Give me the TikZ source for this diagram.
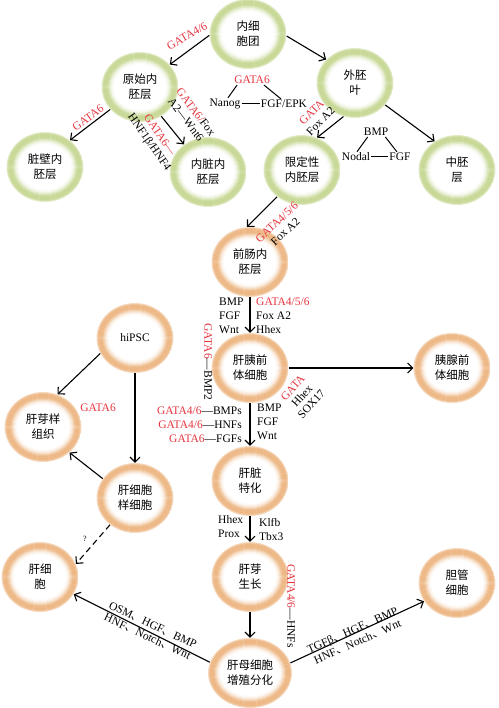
\documentclass[tikz,border=0pt]{standalone}
\usepackage{fontspec}
\setmainfont{Liberation Serif}
\newfontfamily\cjk{Noto Sans CJK SC}
\usetikzlibrary{shapes.geometric,arrows.meta}
\definecolor{gatared}{RGB}{228,52,62}
\definecolor{ringgreen}{RGB}{200,216,150}
\definecolor{ringorange}{RGB}{237,184,134}
\newcommand{\rd}[1]{\textcolor{gatared}{#1}}
\newcommand{\dun}{{\cjk 、}}
% 渐变环
\newcommand{\ringfill}[3]{%
  \foreach \d/\p in {0/50,1/80,2/100,3/100,4/100,5/100,6/88,7/70,8/50,9/32,10/18,11/8}
    \draw[line width=1.3pt, #1!\p!white] (path picture bounding box.center)
      ellipse [x radius=#2-\d, y radius=#3-\d];}

\begin{document}
\begin{tikzpicture}[x=1pt, y=-1pt, >={Straight Barb[length=5pt,width=10pt]},
  font=\fontsize{11.5}{14}\selectfont,
  ring/.style={ellipse, minimum width=77pt, minimum height=70pt, inner sep=0pt, align=center, font=\cjk\fontsize{11.5}{15}\selectfont},
  gring/.style={ring, path picture={\ringfill{ringgreen}{38}{34.5}}},
  oring/.style={ring, path picture={\ringfill{ringorange}{38}{34.5}}},
  wring/.style={ring, minimum width=84pt, path picture={\ringfill{ringorange}{41.5}{34.5}}},
  lab/.style={inner sep=1pt, align=center},
  pair/.style={lab, font=\fontsize{11.5}{12.5}\selectfont},
  arr/.style={->, line width=1.1pt},
  tie/.style={line width=1pt}]
\useasboundingbox (0,0) rectangle (498,708);

% 细胞
\node[gring] (icm) at (248,34) {内细\\胞团};
\node[gring] (pe) at (140,87) {原始内\\胚层};
\node[gring] (ecto) at (355,83) {外胚\\叶};
\node[gring] (pae) at (45,167) {脏壁内\\胚层};
\node[gring] (ve) at (208,172) {内脏内\\胚层};
\node[gring] (de) at (302,170) {限定性\\内胚层};
\node[gring] (meso) at (457,170) {中胚\\层};
\node[oring] (fg) at (250,262) {前肠内\\胚层};
\node[oring] (hpp) at (250,368) {肝胰前\\体细胞};
\node[oring] (panc) at (452,368) {胰腺前\\体细胞};
\node[oring, font=\fontsize{11.5}{14}\selectfont] (ipsc) at (135,338) {hiPSC};
\node[oring] (lbt) at (43,427) {肝芽样\\组织};
\node[oring] (hlc) at (135,498) {肝细胞\\样细胞};
\node[oring] (spec) at (250,481) {肝脏\\特化};
\node[oring] (bud) at (250,577) {肝芽\\生长};
\node[wring] (hb) at (250,673) {肝母细胞\\增殖分化};
\node[oring] (hep) at (40,577) {肝细\\胞};
\node[oring] (chol) at (457,583) {胆管\\细胞};

% 箭头
\draw[arr] (icm.182) -- (pe.37);
\draw[arr] (icm.-3) -- (ecto.141);
\draw[arr] (pe.217) -- (pae.47);
\draw[arr] (pe.306) -- (ve.131);
\draw[arr] (ecto.251) -- (de.65);
\draw[arr] (ecto.324) -- (meso.128);
\draw[arr] (de.227) -- (fg.95);
\draw[arr] (fg) -- (hpp);
\draw[arr] (hpp) -- (panc);
\draw[arr] (hpp) -- (spec);
\draw[arr] (spec) -- (bud);
\draw[arr] (bud) -- (hb);
\draw[arr] (ipsc.204) -- (lbt.66);
\draw[arr] (ipsc) -- (hlc);
\draw[arr] (hlc.149) -- (lbt.316);
\draw[arr, dash pattern=on 6pt off 4pt] (hlc.227) -- (hep.20);
\draw[arr] (hb.165) -- (hep.333);
\draw[arr] (hb.14) -- (chol.209);

% 因子
\node[lab, text=gatared, rotate=30] (l1) at (187,36) {GATA4/6};
\node[lab, text=gatared, rotate=36] (l2) at (88,118) {GATA6};
\node[pair, rotate=-53] (l3) at (191,116) {\rd{GATA6/}Fox\\A2—Wnt6};
\node[pair, rotate=-55] (l4) at (154,139) {\rd{GATA6—}\\HNF1β/HNF4};

\node[lab, text=gatared] (gatab) at (252,80) {GATA6};
\node[lab] (nanog) at (225,104) {Nanog};
\node[lab] (fgfepk) at (284,104) {FGF/EPK};
\draw[tie] ([xshift=4pt]gatab.south west) -- ([xshift=3pt]nanog.north);
\draw[tie] ([xshift=-7pt]gatab.south east) -- ([xshift=-3pt]fgfepk.north);
\draw[tie] (nanog) -- (fgfepk);

\node[lab] (bmpa) at (376,132) {BMP};
\node[lab] (nodal) at (356,157) {Nodal};
\node[lab] (fgfa) at (400,157) {FGF};
\draw[tie] ([xshift=5pt]bmpa.south west) -- ([xshift=1pt]nodal.north);
\draw[tie] ([xshift=-4pt]bmpa.south east) -- ([xshift=-3pt]fgfa.north);
\draw[tie] (nodal) -- (fgfa);

\node[pair, rotate=45] (l5) at (316,117) {\rd{GATA}\\Fox A2};
\node[pair, rotate=43] (l6) at (281,227) {\rd{GATA4/5/6}\\Fox A2};
\node[lab, align=left, anchor=west] (l7) at (218,316) {BMP\\FGF\\Wnt};
\node[lab, align=left, anchor=west] (l8) at (255,316) {\rd{GATA4/5/6}\\Fox A2\\Hhex};
\node[pair, rotate=48] (l9) at (302,396) {\rd{GATA}\\Hhex\\SOX17};
\node[lab, align=left, anchor=west] (l10) at (256,422) {BMP\\FGF\\Wnt};
\node[lab, align=right, anchor=east] (l11) at (243,425) {\rd{GATA4/6}—BMPs\\\rd{GATA4/6}—HNFs\\\rd{GATA6}—FGFs};
\node[lab, rotate=-90] (l12) at (208,362) {\rd{GATA6}—BMP2};
\node[lab, text=gatared] (l13) at (98,408) {GATA6};
\node[lab, font=\fontsize{8}{10}\selectfont] (l14) at (85,539) {?};
\node[lab, align=left, anchor=west] (l15) at (217,527) {Hhex\\Prox};
\node[lab, align=left, anchor=west] (l16) at (258,530) {Klfb\\Tbx3};
\node[lab, rotate=-90] (l17) at (291,606) {\rd{GATA4/6}—HNFs};
\node[pair, rotate=-25] (l18) at (150,631) {OSM\dun HGF\dun BMP\\HNF\dun Notch\dun Wnt};
\node[pair, rotate=24] (l19) at (355,636) {TGFβ\dun HGF\dun BMP\\HNF\dun Notch\dun Wnt};
\end{tikzpicture}
\end{document}
